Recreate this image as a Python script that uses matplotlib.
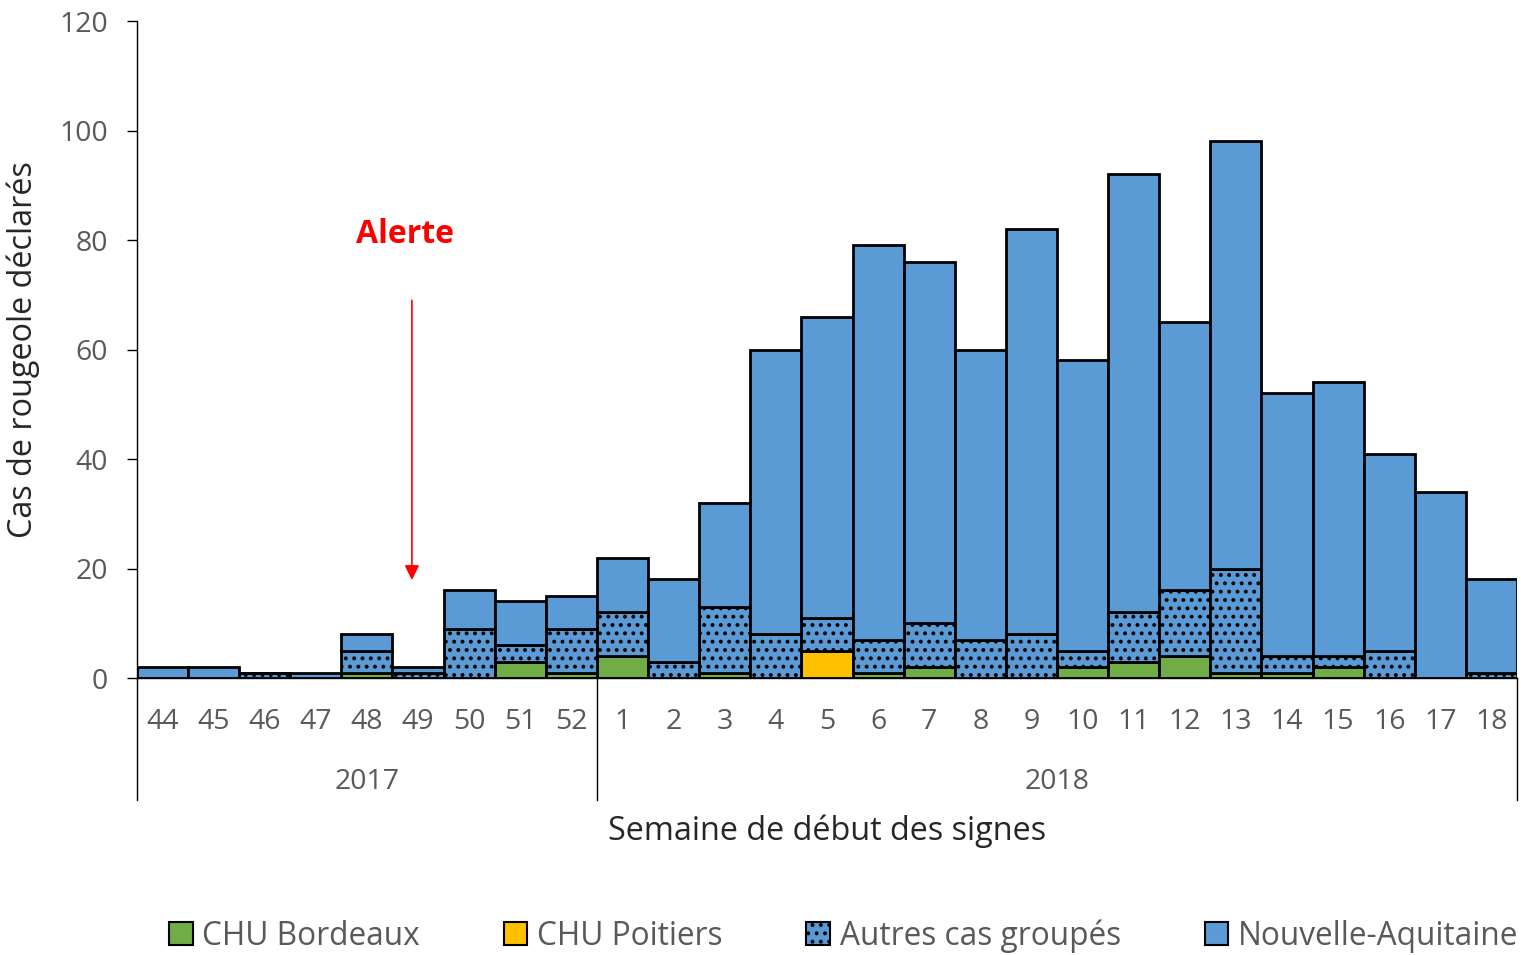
import matplotlib
matplotlib.use("Agg")
import matplotlib.pyplot as plt
from matplotlib.patches import Patch
import numpy as np

plt.rcParams["font.family"] = ["Open Sans", "DejaVu Sans"]
plt.rcParams["hatch.color"] = "black"
plt.rcParams["hatch.linewidth"] = 1.6

weeks = ["44", "45", "46", "47", "48", "49", "50", "51", "52",
         "1", "2", "3", "4", "5", "6", "7", "8", "9", "10", "11", "12", "13",
         "14", "15", "16", "17", "18"]
chu_bordeaux = [0, 0, 0, 0, 1, 0, 0, 3, 1, 4, 0, 1, 0, 0, 1, 2, 0, 0, 2, 3, 4, 1, 1, 2, 0, 0, 0]
chu_poitiers = [0, 0, 0, 0, 0, 0, 0, 0, 0, 0, 0, 0, 0, 5, 0, 0, 0, 0, 0, 0, 0, 0, 0, 0, 0, 0, 0]
autres_groupes = [0, 0, 1, 0, 4, 1, 9, 3, 8, 8, 3, 12, 8, 6, 6, 8, 7, 8, 3, 9, 12, 19, 3, 2, 5, 0, 1]
nouvelle_aquitaine = [2, 2, 0, 1, 3, 1, 7, 8, 6, 10, 15, 19, 52, 55, 72, 66, 53, 74, 53, 80, 49, 78, 48, 50, 36, 34, 17]
years = ["2017", "2018"]

GREEN = "#70AD47"
YELLOW = "#FFC000"
BLUE = "#5B9BD5"
GREY = "#595959"

fig = plt.figure(figsize=(15.21, 9.55), dpi=100)
ax = fig.add_axes([0.090, 0.290, 0.9074, 0.688])

x = np.arange(len(weeks))
b1 = np.array(chu_bordeaux)
b2 = b1 + np.array(chu_poitiers)
b3 = b2 + np.array(autres_groupes)
kw = dict(width=1.0, edgecolor="black", linewidth=2)
ax.bar(x, chu_bordeaux, color=GREEN, **kw)
ax.bar(x, chu_poitiers, bottom=b1, color=YELLOW, **kw)
ax.bar(x, autres_groupes, bottom=b2, color=BLUE, hatch="..", **kw)
ax.bar(x, nouvelle_aquitaine, bottom=b3, color=BLUE, **kw)

ax.set_xlim(-0.5, len(weeks) - 0.5)
ax.set_ylim(0, 120)
ax.set_yticks(range(0, 121, 20))
ax.set_xticks(x)
ax.set_xticklabels(weeks)
ax.tick_params(axis="x", length=0, pad=32, labelsize=20.5, labelcolor=GREY)
ax.tick_params(axis="y", direction="out", length=7, width=1, labelsize=20.5,
               labelcolor=GREY, color="black", pad=14)
for t in ax.get_xticklabels():
    t.set_va("center")
for s in ["top", "right"]:
    ax.spines[s].set_visible(False)
ax.spines["left"].set_linewidth(1)
ax.spines["bottom"].set_linewidth(1)

# second level of the x axis (years)
trans = ax.get_xaxis_transform()
for xv in [-0.5, 8.5, len(weeks) - 0.5]:
    ax.plot([xv, xv], [0, -0.186], color="black", lw=1, transform=trans, clip_on=False)
ax.text(4.0, -0.158, years[0], transform=trans, ha="center", va="center", fontsize=20.5, color=GREY)
ax.text(17.5, -0.158, years[1], transform=trans, ha="center", va="center", fontsize=20.5, color=GREY)

ax.set_ylabel("Cas de rougeole déclarés", fontsize=23.3, color="#262626", labelpad=14)
ax.text(13.0, -0.233, "Semaine de début des signes", transform=trans, ha="center",
        va="center", fontsize=23.3, color="#262626")

# alert annotation
ax.annotate("", xy=(4.88, 17.4), xytext=(4.88, 69.5),
            arrowprops=dict(arrowstyle="-|>", color="red", lw=1.2, mutation_scale=22))
ax.text(4.75, 81, "Alerte", color="red", fontsize=23, fontweight="bold", ha="center", va="center")

handles = [Patch(facecolor=GREEN, edgecolor="black", linewidth=1.5, label="CHU Bordeaux"),
           Patch(facecolor=YELLOW, edgecolor="black", linewidth=1.5, label="CHU Poitiers"),
           Patch(facecolor=BLUE, edgecolor="black", linewidth=1.5, hatch="..", label="Autres cas groupés"),
           Patch(facecolor=BLUE, edgecolor="black", linewidth=1.5, label="Nouvelle-Aquitaine")]
leg = fig.legend(handles=handles, loc="center", bbox_to_anchor=(0.5546, 0.02), ncol=4,
                 frameon=False, fontsize=22.8, handlelength=0.75, handleheight=0.75,
                 handletextpad=0.3, columnspacing=2.65, borderpad=0.1)
for t in leg.get_texts():
    t.set_color(GREY)

fig.savefig("out.png", dpi=100)
